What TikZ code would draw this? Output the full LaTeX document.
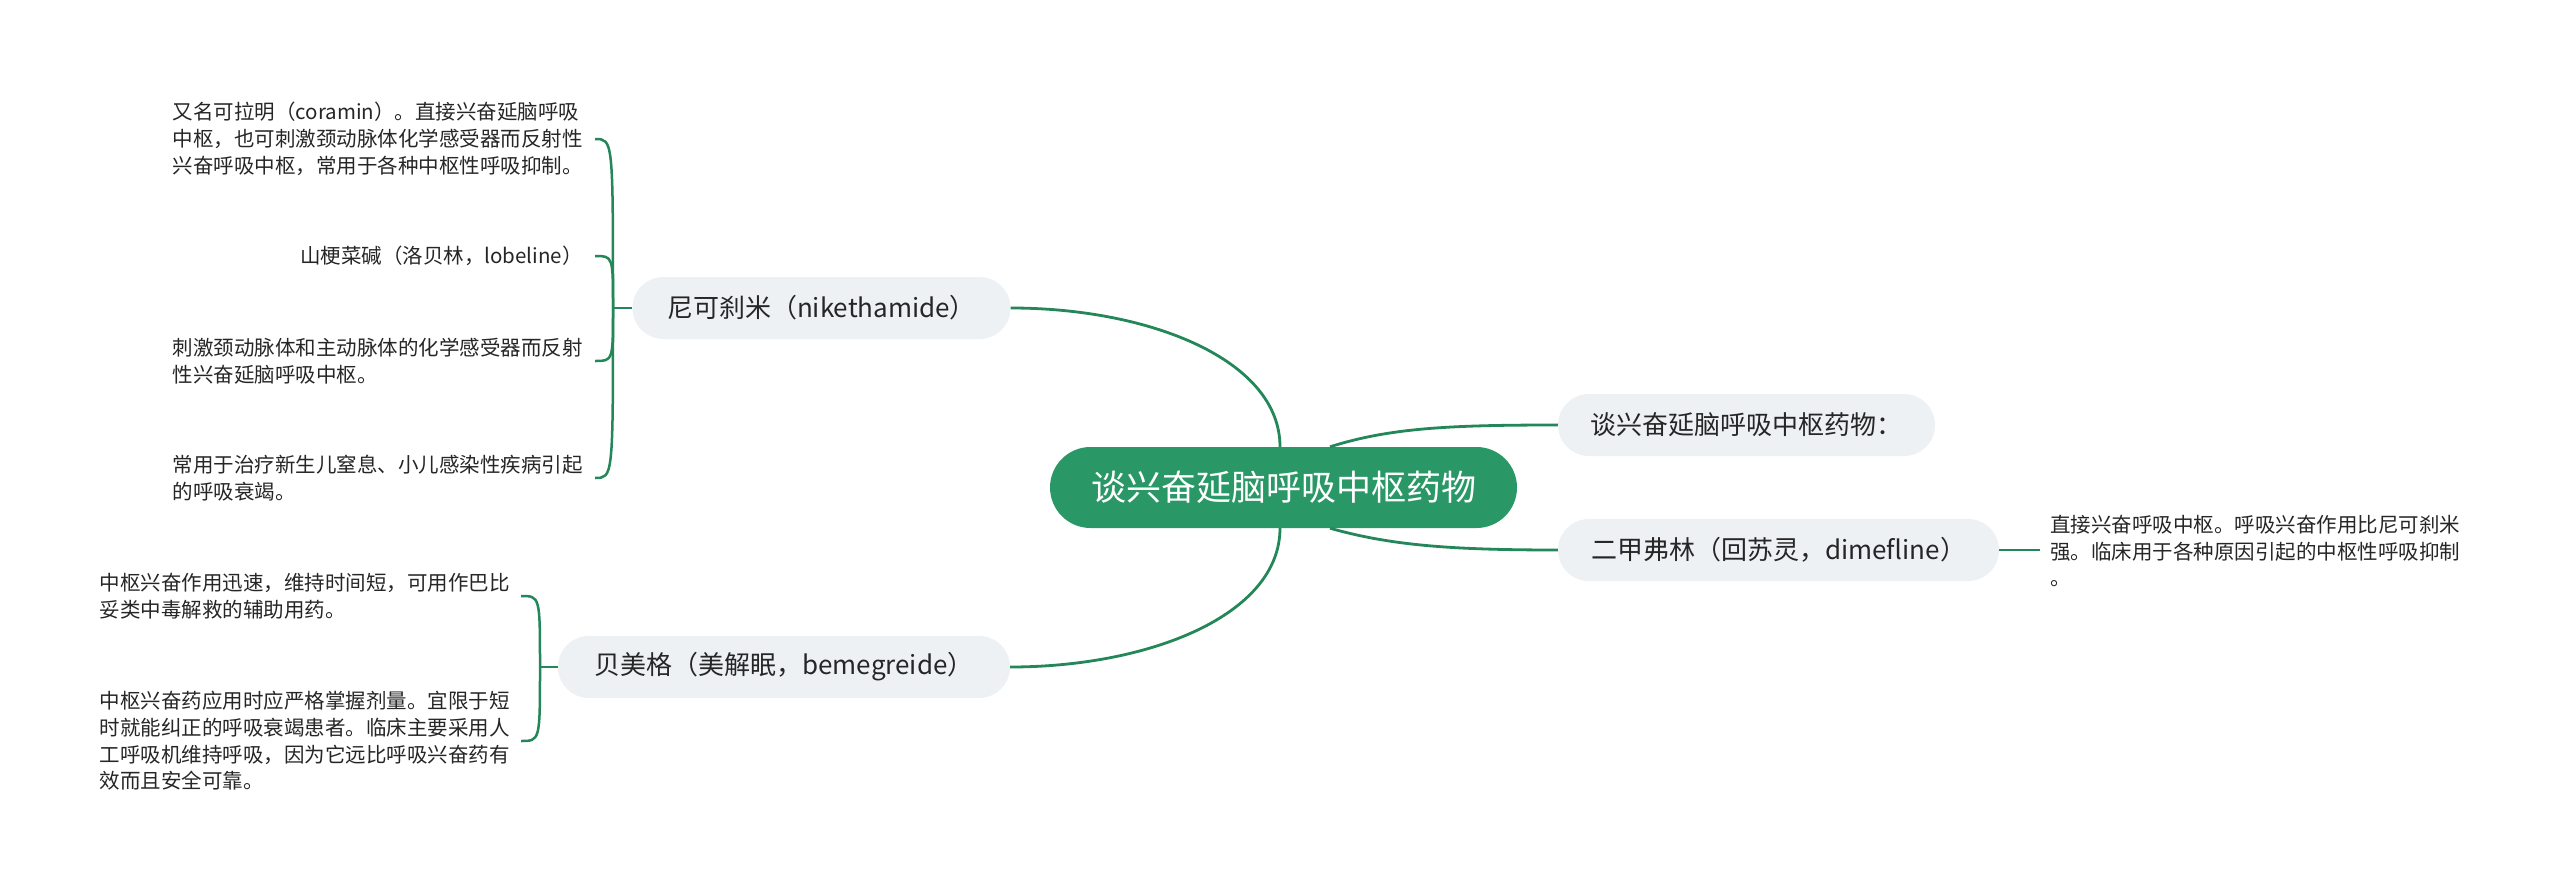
\documentclass[tikz,border=0pt]{standalone}
\usepackage{fontspec}
\setmainfont{Noto Sans CJK SC}
\definecolor{ctrgreen}{HTML}{2A9866}
\definecolor{linegreen}{HTML}{23875A}
\definecolor{nodegrey}{HTML}{EEF1F4}
\definecolor{txtdark}{HTML}{262626}
\tikzset{
  ctrbox/.style={rectangle, rounded corners=40.5pt, fill=ctrgreen, text=white,
    minimum height=81pt, minimum width=467pt, inner sep=0pt,
    font=\fontsize{35pt}{42pt}\selectfont},
  subbox/.style={rectangle, rounded corners=31pt, fill=nodegrey, text=txtdark,
    minimum height=62pt, inner sep=0pt,
    font=\fontsize{26pt}{32pt}\selectfont},
  leaftext/.style={inner sep=0pt, align=left, text=txtdark,
    font=\fontsize{20.5pt}{26.7pt}\selectfont},
  mainline/.style={draw=linegreen, line width=2.8pt},
  leafline/.style={draw=linegreen, line width=2.5pt},
}
\begin{document}
\begin{tikzpicture}[x=1pt, y=-1pt]
\fill[white] (0,0) rectangle (2560,891);
\useasboundingbox (0,0) rectangle (2560,891);

% main nodes
\node[ctrbox] (ctr) at (1283.5,487.5) {谈兴奋延脑呼吸中枢药物};
\node[subbox, minimum width=377pt] (r1) at (1746.5,425) {谈兴奋延脑呼吸中枢药物：};
\node[subbox, minimum width=441pt] (r2) at (1778.5,550) {二甲弗林（回苏灵，dimefline）};
\node[subbox, minimum width=378pt] (nik) at (821.5,308) {尼可刹米（nikethamide）};
\node[subbox, minimum width=452pt] (bem) at (784,667) {贝美格（美解眠，bemegreide）};

% leaves of nikethamide
\node[leaftext, anchor=east] (n1) at (583,139) {又名可拉明（coramin）。直接兴奋延脑呼吸\\中枢，也可刺激颈动脉体化学感受器而反射性\\兴奋呼吸中枢，常用于各种中枢性呼吸抑制。};
\node[leaftext, anchor=east] (n2) at (583,256) {山梗菜碱（洛贝林，lobeline）};
\node[leaftext, anchor=east] (n3) at (583,361) {刺激颈动脉体和主动脉体的化学感受器而反射\\性兴奋延脑呼吸中枢。};
\node[leaftext, anchor=east] (n4) at (583,478) {常用于治疗新生儿窒息、小儿感染性疾病引起\\的呼吸衰竭。};

% leaves of bemegreide
\node[leaftext, anchor=east] (b1) at (510,596) {中枢兴奋作用迅速，维持时间短，可用作巴比\\妥类中毒解救的辅助用药。};
\node[leaftext, anchor=east] (b2) at (510,741) {中枢兴奋药应用时应严格掌握剂量。宜限于短\\时就能纠正的呼吸衰竭患者。临床主要采用人\\工呼吸机维持呼吸，因为它远比呼吸兴奋药有\\效而且安全可靠。};

% leaf of dimefline
\node[leaftext, anchor=west] (d1) at (2050,551) {直接兴奋呼吸中枢。呼吸兴奋作用比尼可刹米\\强。临床用于各种原因引起的中枢性呼吸抑制\\。};

% main connectors
\draw[mainline] (nik.east) .. controls +(139,0) and +(0,-87) .. ([xshift=-3.5pt]ctr.north);
\draw[mainline] ([xshift=-3.5pt]ctr.south) .. controls +(0,87) and +(139,0) .. (bem.east);
\draw[mainline] ([xshift=46.5pt]ctr.north) .. controls +(60,-19) and +(-108,0) .. (r1.west);
\draw[mainline] ([xshift=46.5pt]ctr.south) .. controls +(60,17) and +(-108,0) .. (r2.west);

% leaf connectors
\draw[leafline] (r2.east) -- ([xshift=-10pt]d1.west |- r2.east);

\coordinate (nikT) at (613,308);
\draw[leafline] (nik.west) -- (nikT);
\foreach \n in {n1,n2,n3,n4}
  \draw[leafline] (nikT) .. controls (nikT |- \n.east) .. ([xshift=12pt]\n.east);

\coordinate (bemT) at (540,667);
\draw[leafline] (bem.west) -- (bemT);
\foreach \n in {b1,b2}
  \draw[leafline] (bemT) .. controls (bemT |- \n.east) .. ([xshift=11pt]\n.east);
\end{tikzpicture}
\end{document}
